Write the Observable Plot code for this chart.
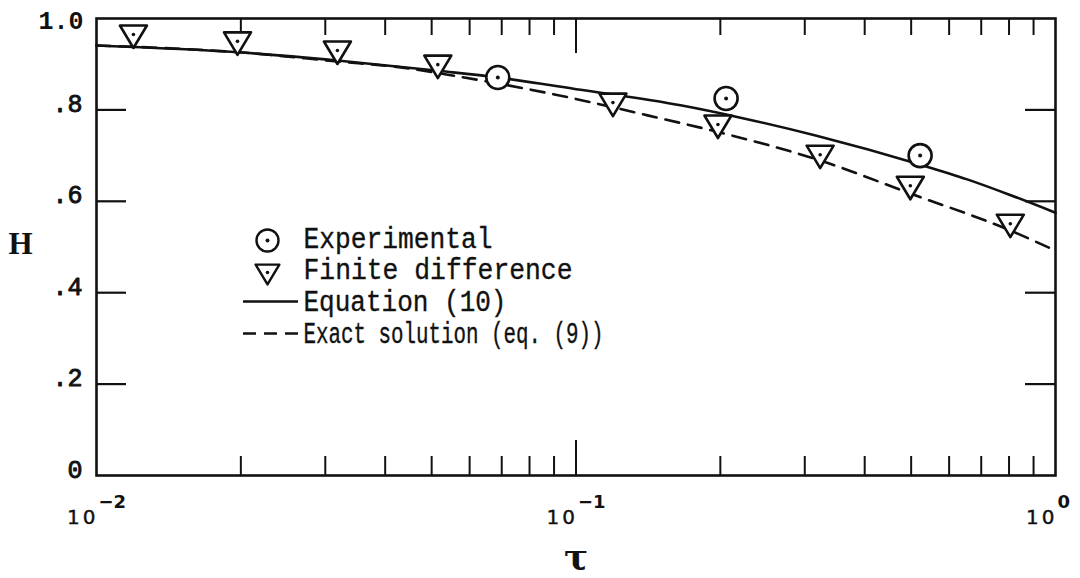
<!DOCTYPE html>
<html>
<head>
<meta charset="utf-8">
<script src="https://cdn.jsdelivr.net/npm/d3@7"></script>
<script src="https://cdn.jsdelivr.net/npm/@observablehq/plot@0.6"></script>
<style>
  html, body { margin: 0; padding: 0; background: #fff; }
  #chart { width: 1080px; height: 578px; }
</style>
</head>
<body>
<div id="chart"></div>
<script>
// ---- Data ----
// Finite difference (triangles)
const tauFD = [0.01194, 0.01968, 0.0318, 0.0515, 0.1194, 0.1977, 0.323, 0.498, 0.805];
const hFD   = [0.965,   0.950,   0.930,  0.899,  0.816,  0.768,  0.702, 0.634, 0.551];
// Experimental (circles)
const tauExp = [0.0687, 0.2056, 0.522];
const hExp   = [0.871,  0.825,  0.700];
// Equation (10) (solid line)
const tauEq10 = [0.01,  0.0198, 0.0318, 0.0522, 0.0686, 0.1022, 0.1652, 0.2203, 0.316, 0.5195, 0.6545, 0.7988, 1.0];
const hEq10   = [0.941, 0.926,  0.908,  0.885,  0.871,  0.844,  0.810,  0.783,  0.744, 0.681,  0.648,  0.615,  0.575];
// Exact solution (eq. (9)) (dashed line)
const tauExact = [0.01,  0.0198, 0.0318, 0.0431, 0.0540, 0.0686, 0.0959, 0.141, 0.199, 0.3236, 0.4984, 0.8054, 1.0];
const hExact   = [0.941, 0.926,  0.906,  0.893,  0.877,  0.858,  0.828,  0.788, 0.751, 0.689,  0.617,  0.536,  0.492];

// Axis ticks and labels
const yTickValues = [0.2, 0.4, 0.6, 0.8];
const yLabelValues = [0, 0.2, 0.4, 0.6, 0.8];
const yLabelText = ["0", ".2", ".4", ".6", ".8"];
const yTopValue = [1.0];
const yTopText = ["1.0"];
const xMinorTicks = [0.02, 0.03, 0.04, 0.05, 0.06, 0.07, 0.08, 0.09, 0.2, 0.3, 0.4, 0.5, 0.6, 0.7, 0.8, 0.9];
const xMajorTick = [0.1];
const xDecades = [0.01, 0.1, 1];
const xDecadeBase = ["10", "10", "10"];
const xExponents = ["\u22122", "\u22121", "0"];
const xTitle = ["\u03c4"];
const yTitle = ["H"];
const legendLabels = ["Experimental", "Finite difference", "Equation (10)", "Exact solution (eq. (9))"];

// ---- Styles ----
const ink = "#111";
const mono = "Liberation Mono, DejaVu Sans Mono, monospace";
const legendWidths = [189, 269, 203, 300];
const legendRowDy = [220, 251, 283, 315];

const triDown = {
  draw(ctx, size) {
    const s = Math.sqrt(size / Math.PI);
    ctx.moveTo(-1.08 * s, -0.72 * s);
    ctx.lineTo(1.08 * s, -0.72 * s);
    ctx.lineTo(0, 1.08 * s);
    ctx.closePath();
  }
};
const hLine = {
  draw(ctx, size) {
    const r = Math.sqrt(size / Math.PI);
    ctx.moveTo(-r, 0);
    ctx.lineTo(r, 0);
  }
};

const fd = tauFD.map((t, i) => ({tau: t, h: hFD[i]}));
const ex = tauExp.map((t, i) => ({tau: t, h: hExp[i]}));
const eq10 = tauEq10.map((t, i) => ({tau: t, h: hEq10[i]}));
const exact = tauExact.map((t, i) => ({tau: t, h: hExact[i]}));

const legendText = legendLabels.map((label, i) =>
  Plot.text([label], {x: null, y: null, frameAnchor: "top-left", text: d => d, textAnchor: "start", lineAnchor: "middle",
    dx: 207, dy: legendRowDy[i], fontFamily: mono, fontSize: 29, fill: ink, stroke: ink, strokeWidth: 0.35})
);

const chart = Plot.plot({
  width: 1080,
  height: 578,
  marginLeft: 96,
  marginRight: 25,
  marginTop: 18,
  marginBottom: 103,
  style: {background: "#fff", color: ink, overflow: "visible"},
  x: {type: "log", domain: [0.01, 1]},
  y: {domain: [0, 1]},
  marks: [
    // inward ticks
    Plot.axisX({anchor: "bottom", ticks: xMinorTicks, tickSize: -19, tickFormat: () => "", label: null, strokeWidth: 2, stroke: ink}),
    Plot.axisX({anchor: "bottom", ticks: xMajorTick, tickSize: -35, tickFormat: () => "", label: null, strokeWidth: 2, stroke: ink}),
    Plot.axisX({anchor: "top", ticks: xMinorTicks, tickSize: -16, tickFormat: () => "", label: null, strokeWidth: 2, stroke: ink}),
    Plot.axisX({anchor: "top", ticks: xMajorTick, tickSize: -34, tickFormat: () => "", label: null, strokeWidth: 2, stroke: ink}),
    Plot.axisY({anchor: "left", ticks: yTickValues, tickSize: -30, tickFormat: () => "", label: null, strokeWidth: 2.2, stroke: ink}),
    Plot.axisY({anchor: "right", ticks: yTickValues, tickSize: -31, tickFormat: () => "", label: null, strokeWidth: 2.2, stroke: ink}),
    Plot.frame({stroke: ink, strokeWidth: 2.6}),

    // y tick labels
    Plot.text(yLabelValues, {y: d => d, frameAnchor: "left", text: (d, i) => yLabelText[i], textAnchor: "end", lineAnchor: "middle", dx: -14, dy: -6, fontFamily: mono, fontSize: 25, fill: ink, stroke: ink, strokeWidth: 0.9}),
    Plot.text(yTopValue, {y: d => d, frameAnchor: "left", text: (d, i) => yTopText[i], textAnchor: "end", lineAnchor: "middle", dx: -13, dy: 2, fontFamily: mono, fontSize: 25, fontWeight: "bold", fill: ink}),

    // x decade labels
    Plot.text(xDecades, {x: d => d, frameAnchor: "bottom", text: (d, i) => xDecadeBase[i], textAnchor: "end", lineAnchor: "middle", dx: 2, dy: 42, fontFamily: "DejaVu Sans, sans-serif", fontSize: 20, fill: ink, stroke: ink, strokeWidth: 0.4}),
    Plot.text(xDecades, {x: d => d, frameAnchor: "bottom", text: (d, i) => xExponents[i], textAnchor: "start", lineAnchor: "middle", dx: 2, dy: 27, fontFamily: "DejaVu Sans, sans-serif", fontSize: 18, fontWeight: "bold", fill: ink}),

    // axis titles
    Plot.text(xTitle, {x: null, y: null, frameAnchor: "bottom", text: d => d, textAnchor: "middle", lineAnchor: "middle", dy: 82, fontFamily: "DejaVu Serif, serif", fontSize: 36, fontWeight: "bold", fill: ink}),
    Plot.text(yTitle, {x: null, y: null, frameAnchor: "left", text: d => d, textAnchor: "middle", lineAnchor: "middle", dx: -76, dy: -3, fontFamily: "Liberation Serif, serif", fontSize: 31, fontWeight: "bold", fill: ink}),

    // curves
    Plot.line(eq10, {x: "tau", y: "h", curve: "monotone-x", stroke: ink, strokeWidth: 2.6}),
    Plot.line(exact, {x: "tau", y: "h", curve: "monotone-x", stroke: ink, strokeWidth: 2.6, strokeDasharray: "14,9"}),

    // symbols
    Plot.dot(ex, {x: "tau", y: "h", r: 11.5, stroke: ink, strokeWidth: 2.6, fill: "#fff"}),
    Plot.dot(ex, {x: "tau", y: "h", r: 2, fill: ink}),
    Plot.dot(fd, {x: "tau", y: "h", r: 12.5, symbol: triDown, stroke: ink, strokeWidth: 2.6, fill: "#fff", strokeLinejoin: "round"}),
    Plot.dot(fd, {x: "tau", y: "h", r: 1.8, fill: ink}),

    // legend
    Plot.dot([legendLabels[0]], {x: null, y: null, frameAnchor: "top-left", dx: 171, dy: 222, r: 11, stroke: ink, strokeWidth: 2.4, fill: "#fff"}),
    Plot.dot([legendLabels[0]], {x: null, y: null, frameAnchor: "top-left", dx: 171, dy: 222, r: 2, fill: ink}),
    Plot.dot([legendLabels[1]], {x: null, y: null, frameAnchor: "top-left", dx: 171, dy: 254, r: 11, symbol: triDown, stroke: ink, strokeWidth: 2.4, fill: "#fff", strokeLinejoin: "round"}),
    Plot.dot([legendLabels[1]], {x: null, y: null, frameAnchor: "top-left", dx: 171, dy: 254, r: 1.8, fill: ink}),
    Plot.dot([legendLabels[2]], {x: null, y: null, frameAnchor: "top-left", dx: 174, dy: 283, r: 27.5, symbol: hLine, stroke: ink, strokeWidth: 2.6, fill: "none"}),
    Plot.dot([legendLabels[3]], {x: null, y: null, frameAnchor: "top-left", dx: 174, dy: 315, r: 27.5, symbol: hLine, stroke: ink, strokeWidth: 2.6, fill: "none", strokeDasharray: "13,8"}),
    ...legendText
  ]
});

// fit legend text widths to the reference's typewriter lettering
chart.querySelectorAll("text").forEach(t => {
  const s = t.textContent;
  const i = legendLabels.indexOf(s);
  if (i >= 0) {
    t.setAttribute("textLength", legendWidths[i]);
    t.setAttribute("lengthAdjust", "spacingAndGlyphs");
  }
  if (s === "10") t.setAttribute("letter-spacing", "3");
});

document.getElementById("chart").appendChild(chart);
</script>
</body>
</html>
